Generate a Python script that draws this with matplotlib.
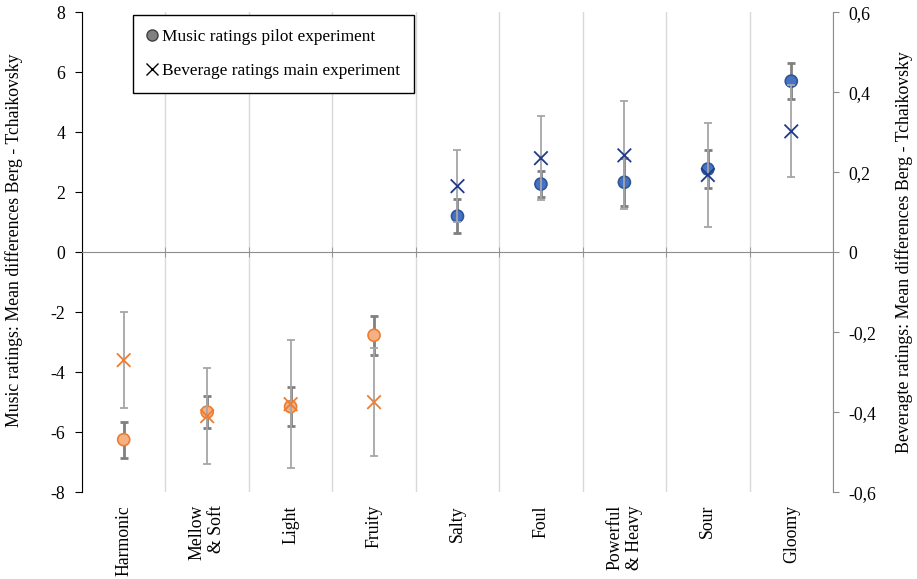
import matplotlib.pyplot as plt
import numpy as np
from matplotlib.lines import Line2D
from matplotlib.ticker import FixedLocator, FuncFormatter

plt.rcParams["font.family"] = ["Liberation Serif", "DejaVu Serif"]
plt.rcParams["axes.unicode_minus"] = False

categories = ["Harmonic", "Mellow\n& Soft", "Light", "Fruity", "Salty",
              "Foul", "Powerful\n& Heavy", "Sour", "Gloomy"]
music_mean = [-6.25, -5.33, -5.15, -2.77, 1.2, 2.27, 2.33, 2.77, 5.7]
music_err = [0.6, 0.53, 0.65, 0.65, 0.57, 0.43, 0.8, 0.63, 0.6]
beverage_mean = [-0.27, -0.41, -0.38, -0.375, 0.165, 0.235, 0.242, 0.193, 0.302]
beverage_err = [0.12, 0.12, 0.16, 0.135, 0.09, 0.105, 0.135, 0.13, 0.115]
n_orange = 4

orange_fill, orange_edge = "#f4b183", "#ed7d31"
blue_fill, blue_edge = "#4472c4", "#2f5597"
navy = "#1f3b8a"
fs = 12.8

fig = plt.figure(figsize=(9.17, 5.79), dpi=100)
ax = fig.add_axes([0.0894, 0.150, 0.8190, 0.829])
ax2 = ax.twinx()

x = np.arange(len(categories))
ax.set_xlim(-0.5, len(categories) - 0.5)
ax.set_ylim(-8, 8)
ax2.set_ylim(-0.6, 0.6)

# gridlines at category boundaries, zero axis with crossing ticks
ax.xaxis.set_minor_locator(FixedLocator(np.arange(len(categories) + 1) - 0.5))
ax.set_xticks(x)
ax.set_xticklabels([])
ax.tick_params(axis="x", which="major", length=0)
ax.tick_params(axis="x", which="minor", direction="inout", length=7, color="#8c8c8c")
ax.grid(True, which="minor", axis="x", color="#d9d9d9", linewidth=1)
ax.spines["bottom"].set_position(("data", 0))
ax.spines["bottom"].set_color("#8c8c8c")
ax.spines["top"].set_visible(False)
ax.spines["right"].set_visible(False)
ax.set_axisbelow(True)

for xi, label in zip(x, categories):
    ax.text(xi, -0.027, label, rotation=90, ha="center", va="top",
            multialignment="right", fontsize=fs,
            transform=ax.get_xaxis_transform())

ax.set_yticks(np.arange(-8, 9, 2))
ax.tick_params(axis="y", length=5, labelsize=fs, pad=7)
ax.set_ylabel("Music ratings: Mean differences Berg - Tchaikovsky", fontsize=fs)
ax.yaxis.set_label_coords(-0.079, 0.525)

ax2.set_yticks(np.arange(-0.6, 0.61, 0.2))
ax2.yaxis.set_major_formatter(FuncFormatter(
    lambda v, _: "0" if abs(v) < 1e-9 else f"{v:.1f}".replace(".", ",")))
ax2.tick_params(axis="y", length=4, color="#8c8c8c", labelsize=fs, pad=7)
for side in ["top", "bottom", "left"]:
    ax2.spines[side].set_visible(False)
ax2.spines["right"].set_color("#8c8c8c")
ax2.set_ylabel("Beveragte ratings: Mean differences Berg - Tchaikovsky", fontsize=fs, labelpad=14)

fills = [orange_fill] * n_orange + [blue_fill] * (len(categories) - n_orange)
edges = [orange_edge] * n_orange + [blue_edge] * (len(categories) - n_orange)
crosses = [orange_edge] * n_orange + [navy] * (len(categories) - n_orange)

ax.errorbar(x, music_mean, yerr=music_err, fmt="none", ecolor="#808080",
            elinewidth=2.0, capsize=3, capthick=2.0, zorder=3)
ax2.errorbar(x, beverage_mean, yerr=beverage_err, fmt="none", ecolor="#a6a6a6",
             elinewidth=1.3, capsize=3, capthick=1.3, zorder=3)
ax.scatter(x, music_mean, s=75, c=fills, edgecolors=edges, linewidths=1.2, zorder=4)
ax2.scatter(x, beverage_mean, s=95, marker="x", c=crosses, linewidths=1.3, zorder=5)

handles = [
    Line2D([], [], marker="o", linestyle="none", markersize=8,
           markerfacecolor="#808080", markeredgecolor="#404040"),
    Line2D([], [], marker="x", linestyle="none", markersize=8,
           color="black", markeredgewidth=1.0),
]
leg = ax2.legend(handles, ["Music ratings pilot experiment", "Beverage ratings main experiment"],
                 loc="upper left", bbox_to_anchor=(0.068, 0.994), fontsize=12.4,
                 frameon=True, fancybox=False, edgecolor="black", framealpha=1,
                 handlelength=0.6, handletextpad=0.3, labelspacing=1.05,
                 borderpad=0.8, borderaxespad=0)
leg.get_frame().set_linewidth(1.0)

fig.savefig("out.png", dpi=100)
